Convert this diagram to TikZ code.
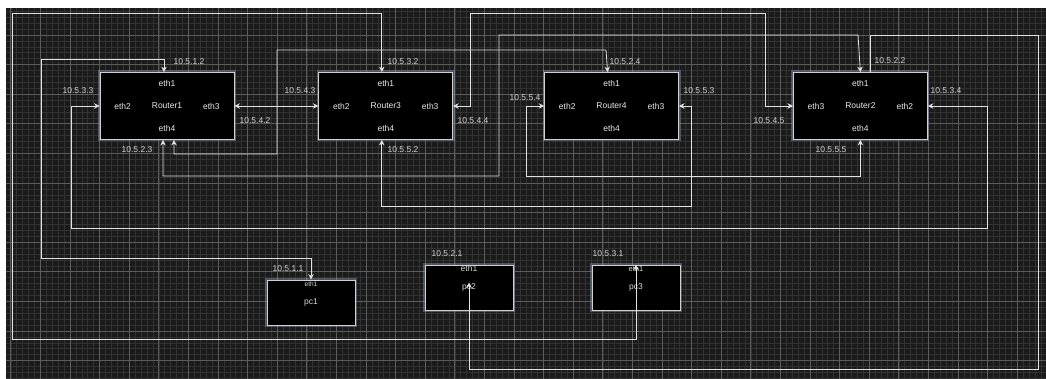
\documentclass[tikz,border=0pt]{standalone}
\usepackage{fontspec}
\setsansfont{Liberation Sans}
\usetikzlibrary{arrows.meta, positioning, calc}
\definecolor{canvas}{HTML}{1B1B1B}
\definecolor{gridfine}{HTML}{323232}
\definecolor{gridbold}{HTML}{5C5C5C}
\definecolor{wire}{HTML}{E2E2E2}
\definecolor{iptext}{HTML}{D2D2D2}
\definecolor{halo}{HTML}{9CA2C4}
\tikzset{
    font=\sffamily,
    router/.style={rectangle, draw=white!82!black, fill=black, line width=0.8pt, minimum width=134pt, minimum height=67pt, inner sep=0pt, font=\fontsize{8.5}{10}\selectfont\sffamily, text=white!92!black, preaction={draw=halo, draw opacity=0.4, line width=4pt}},
    pcbox/.style={rectangle, draw=white!82!black, fill=black, line width=0.8pt, minimum width=88pt, minimum height=45pt, inner sep=0pt, font=\fontsize{8.5}{10}\selectfont\sffamily, text=white!85!black, preaction={draw=halo, draw opacity=0.4, line width=4pt}},
    port/.style={font=\fontsize{8.5}{10}\selectfont\sffamily, text=white!92!black, inner sep=0pt},
    pcport/.style={port, text=white!85!black},
    ip/.style={font=\fontsize{8.5}{10}\selectfont\sffamily, text=iptext, inner sep=0pt},
    link/.style={draw=wire, line width=0.8pt},
    twoway/.style={{Stealth[length=5.5pt,width=5.5pt]}-{Stealth[length=5.5pt,width=5.5pt]}},
    oneway/.style={-{Stealth[length=5.5pt,width=5.5pt]}},
    finegrid/.style={draw=gridfine, line width=0.6pt},
    boldgrid/.style={draw=gridbold, line width=0.7pt}
}

\begin{document}
\begin{tikzpicture}[x=1pt, y=-1pt]

    % Canvas and grid
    \useasboundingbox (0,0) rectangle (1046,379);
    \fill [white] (0,0) rectangle (1046,379);
    \fill [canvas] (6,8) rectangle (1046,379);
    \foreach \gx in {0,...,174} \draw [finegrid] ({10.8+5.92*\gx},8) -- ++(0,371);
    \foreach \gy in {0,...,62} \draw [finegrid] (6,{11.32+5.92*\gy}) -- ++(1040,0);
    \foreach \gx in {0,...,34} \draw [boldgrid] ({10.8+29.6*\gx},8) -- ++(0,371);
    \foreach \gy in {0,...,11} \draw [boldgrid] (6,{35+29.6*\gy}) -- ++(1040,0);

    % Routers
    \node (r1) [router] at (167,106) {Router1};
    \node (r3) [router, right=84pt of r1] {Router3};
    \node (r4) [router, right=91pt of r3] {Router4};
    \node (r2) [router, right=114pt of r4] {Router2};

    % Router ports
    \node (r1e1) [port] at ([yshift=-11pt]r1.north) {eth1};
    \node (r1e2) [port] at ([xshift=23pt]r1.west) {eth2};
    \node (r1e3) [port] at ([xshift=-23pt]r1.east) {eth3};
    \node (r1e4) [port] at ([yshift=11pt]r1.south) {eth4};
    \node (r3e1) [port] at ([yshift=-11pt]r3.north) {eth1};
    \node (r3e2) [port] at ([xshift=23pt]r3.west) {eth2};
    \node (r3e3) [port] at ([xshift=-23pt]r3.east) {eth3};
    \node (r3e4) [port] at ([yshift=11pt]r3.south) {eth4};
    \node (r4e1) [port] at ([yshift=-11pt]r4.north) {eth1};
    \node (r4e2) [port] at ([xshift=23pt]r4.west) {eth2};
    \node (r4e3) [port] at ([xshift=-23pt]r4.east) {eth3};
    \node (r4e4) [port] at ([yshift=11pt]r4.south) {eth4};
    \node (r2e1) [port] at ([yshift=-11pt]r2.north) {eth1};
    \node (r2e3) [port] at ([xshift=23pt]r2.west) {eth3};
    \node (r2e2) [port] at ([xshift=-23pt]r2.east) {eth2};
    \node (r2e4) [port] at ([yshift=11pt]r2.south) {eth4};

    % Hosts
    \node (pc1) [pcbox] at (311,302.5) {pc1};
    \node (pc2) [pcbox] at (469,287.5) {pc2};
    \node (pc3) [pcbox] at (636,287.5) {pc3};
    \node (pc1e1) [pcport, font=\fontsize{6.5}{7}\selectfont\sffamily] at ([yshift=-5pt]pc1.north) {eth1};
    \node (pc2e1) [pcport] at ([yshift=-4pt]pc2.north) {eth1};
    \node (pc3e1) [pcport, font=\fontsize{7.5}{8}\selectfont\sffamily] at ([yshift=-4pt]pc3.north) {eth1};

    % Addresses
    \node (ip512) [ip] at (189,62) {10.5.1.2};
    \node (ip533) [ip] at (78,91) {10.5.3.3};
    \node (ip543) [ip] at (300,91) {10.5.4.3};
    \node (ip542) [ip] at (255,121) {10.5.4.2};
    \node (ip523) [ip] at (137,150) {10.5.2.3};
    \node (ip532) [ip] at (403,62) {10.5.3.2};
    \node (ip544) [ip] at (473,121) {10.5.4.4};
    \node (ip552) [ip] at (403,150) {10.5.5.2};
    \node (ip524) [ip] at (625,62) {10.5.2.4};
    \node (ip554) [ip] at (525,98) {10.5.5.4};
    \node (ip553) [ip] at (699,91) {10.5.5.3};
    \node (ip522) [ip] at (890,61) {10.5.2.2};
    \node (ip534) [ip] at (946,91) {10.5.3.4};
    \node (ip545) [ip] at (769,121) {10.5.4.5};
    \node (ip555) [ip] at (831,150) {10.5.5.5};
    \node (ip511) [ip] at (288,269) {10.5.1.1};
    \node (ip521) [ip] at (447,254) {10.5.2.1};
    \node (ip531) [ip] at (608,254) {10.5.3.1};

    % 10.5.1.x
    \draw [link, twoway] ([xshift=-3pt]r1.north) |- (41,59) |- (311,258) -- (pc1.north);

    % 10.5.2.x
    \draw [link, twoway] ([xshift=-4pt]r1.south) |- (499,176) |- (858,35) -- (r2.north);
    \draw [link, twoway] ([xshift=7pt]r1.south) |- (277,154) |- (606,50) -- ([xshift=-4pt]r4.north);
    \draw [link, oneway] ([xshift=10pt]r2.north) |- (1038,35) |- (469,369) -- ([yshift=5pt]pc2.center);

    % 10.5.3.x
    \draw [link, twoway] ([xshift=-4pt]r3.north) |- (12,13) |- (636,339) -- (pc3.north);
    \draw [link, twoway] (r1.west) -| (71,228) -| (987,106) -- (r2.east);

    % 10.5.4.x
    \draw [link, twoway] (r1.east) -- (r3.west);
    \draw [link, twoway] (r3.east) -| (470,13) -| (765,106) -- (r2.west);

    % 10.5.5.x
    \draw [link, twoway] ([xshift=-4pt]r3.south) |- (691,206) |- (r4.east);
    \draw [link, twoway] (r4.west) -| (526,176) -| (r2.south);

\end{tikzpicture}
\end{document}
